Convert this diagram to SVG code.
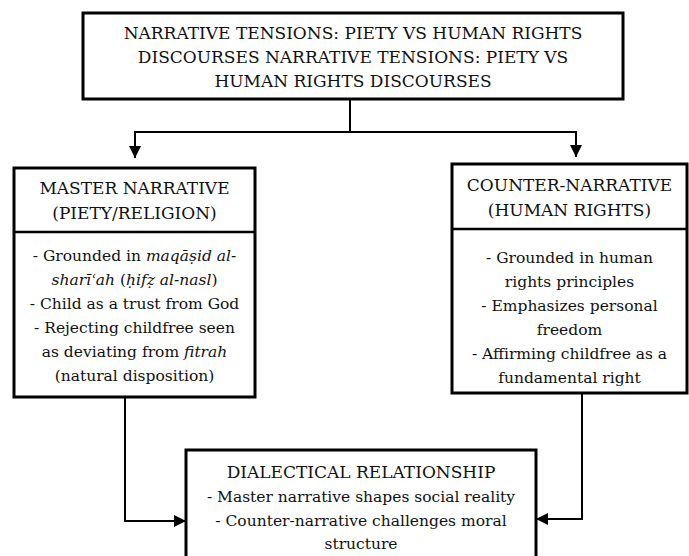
<svg xmlns="http://www.w3.org/2000/svg" width="689" height="556" viewBox="0 0 689 556">
<defs>
<marker id="ah" viewBox="0 0 12 12" refX="12" refY="6" markerWidth="12" markerHeight="12" markerUnits="userSpaceOnUse" orient="auto">
<path d="M0,0 L12,6 L0,12 Z" fill="#000"/>
</marker>
</defs>
<rect width="689" height="556" fill="#fff"/>
<g id="connectors" fill="none" stroke="#000" stroke-width="2">
<path d="M350,99 V132"/>
<path d="M135,132 H576"/>
<path d="M135,131 V158" marker-end="url(#ah)"/>
<path d="M576,131 V157" marker-end="url(#ah)"/>
<path d="M125,397 V521 H186" marker-end="url(#ah)"/>
<path d="M582,393 V519 H536" marker-end="url(#ah)"/>
</g>
<g id="title">
<rect x="83" y="13" width="540" height="86" fill="#fff" stroke="#000" stroke-width="3"/>
<text x="353" y="39" font-family="DejaVu Serif" font-size="17" text-anchor="middle" fill="#111">NARRATIVE TENSIONS: PIETY VS HUMAN RIGHTS</text>
<text x="353" y="63" font-family="DejaVu Serif" font-size="17" text-anchor="middle" fill="#111">DISCOURSES NARRATIVE TENSIONS: PIETY VS</text>
<text x="353" y="87" font-family="DejaVu Serif" font-size="17" text-anchor="middle" fill="#111">HUMAN RIGHTS DISCOURSES</text>
</g>
<g id="master">
<rect x="14" y="168" width="241" height="229" fill="#fff" stroke="#000" stroke-width="3"/>
<line x1="14" y1="232" x2="255" y2="232" stroke="#000" stroke-width="2.5"/>
<text x="134.5" y="194" font-family="DejaVu Serif" font-size="17" text-anchor="middle" fill="#111">MASTER NARRATIVE</text>
<text x="134.5" y="219" font-family="DejaVu Serif" font-size="17" text-anchor="middle" fill="#111">(PIETY/RELIGION)</text>
<text x="134.5" y="261" font-family="DejaVu Serif" font-size="15.5" text-anchor="middle" fill="#111">- Grounded in <tspan font-style="italic">maqāṣid al-</tspan></text>
<text x="134.5" y="285" font-family="DejaVu Serif" font-size="15.5" text-anchor="middle" fill="#111"><tspan font-style="italic">sharīʿah</tspan> (<tspan font-style="italic">ḥifẓ al-nasl</tspan>)</text>
<text x="134.5" y="309" font-family="DejaVu Serif" font-size="15.5" text-anchor="middle" fill="#111">- Child as a trust from God</text>
<text x="134.5" y="333" font-family="DejaVu Serif" font-size="15.5" text-anchor="middle" fill="#111">- Rejecting childfree seen</text>
<text x="134.5" y="357" font-family="DejaVu Serif" font-size="15.5" text-anchor="middle" fill="#111">as deviating from <tspan font-style="italic">fitrah</tspan></text>
<text x="134.5" y="381" font-family="DejaVu Serif" font-size="15.5" text-anchor="middle" fill="#111">(natural disposition)</text>
</g>
<g id="counter">
<rect x="452" y="164" width="235" height="229" fill="#fff" stroke="#000" stroke-width="3"/>
<line x1="452" y1="229" x2="687" y2="229" stroke="#000" stroke-width="2.5"/>
<text x="569.5" y="191" font-family="DejaVu Serif" font-size="17" text-anchor="middle" fill="#111">COUNTER-NARRATIVE</text>
<text x="569.5" y="216" font-family="DejaVu Serif" font-size="17" text-anchor="middle" fill="#111">(HUMAN RIGHTS)</text>
<text x="569.5" y="263" font-family="DejaVu Serif" font-size="15.5" text-anchor="middle" fill="#111">- Grounded in human</text>
<text x="569.5" y="287" font-family="DejaVu Serif" font-size="15.5" text-anchor="middle" fill="#111">rights principles</text>
<text x="569.5" y="311" font-family="DejaVu Serif" font-size="15.5" text-anchor="middle" fill="#111">- Emphasizes personal</text>
<text x="569.5" y="335" font-family="DejaVu Serif" font-size="15.5" text-anchor="middle" fill="#111">freedom</text>
<text x="569.5" y="359" font-family="DejaVu Serif" font-size="15.5" text-anchor="middle" fill="#111">- Affirming childfree as a</text>
<text x="569.5" y="383" font-family="DejaVu Serif" font-size="15.5" text-anchor="middle" fill="#111">fundamental right</text>
</g>
<g id="dialectical">
<rect x="186" y="450" width="350" height="120" fill="#fff" stroke="#000" stroke-width="3"/>
<text x="361" y="478" font-family="DejaVu Serif" font-size="17" text-anchor="middle" fill="#111">DIALECTICAL RELATIONSHIP</text>
<text x="361" y="502" font-family="DejaVu Serif" font-size="15.5" text-anchor="middle" fill="#111">- Master narrative shapes social reality</text>
<text x="361" y="526" font-family="DejaVu Serif" font-size="15.5" text-anchor="middle" fill="#111">- Counter-narrative challenges moral</text>
<text x="361" y="549" font-family="DejaVu Serif" font-size="15.5" text-anchor="middle" fill="#111">structure</text>
</g>
</svg>
